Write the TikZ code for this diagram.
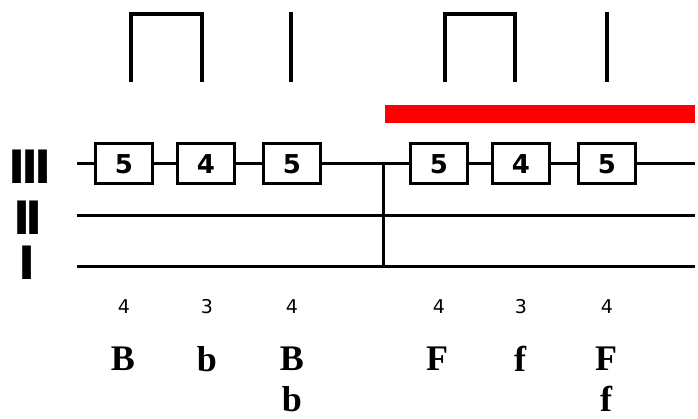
\documentclass[tikz,border=0pt]{standalone}
\usepackage{fontspec}
\setmainfont{Liberation Serif}
\newfontfamily\sansfont{DejaVu Sans}

\begin{document}
\begin{tikzpicture}[
    x=1pt, y=-1pt,
    staff/.style={
      line width=3pt
    },
    bracket/.style={
      line width=4pt
    },
    pitchbox/.style={
      rectangle,
      draw=black,
      line width=3pt,
      fill=white,
      minimum width=57pt,
      minimum height=40pt,
      inner sep=0pt,
      font=\sansfont\bfseries\fontsize{26}{26}\selectfont
    },
    level/.style={
      inner sep=0pt,
      font=\sansfont\bfseries\fontsize{46}{46}\selectfont
    },
    count/.style={
      inner sep=0pt,
      font=\sansfont\fontsize{19}{19}\selectfont
    },
    letter/.style={
      inner sep=0pt,
      font=\bfseries\fontsize{36}{36}\selectfont
    }
  ]

    \useasboundingbox (0,0) rectangle (698,419);

    % Level labels
    \node[level] (lIII) at (30,167) {I\kern-4.5pt I\kern-4.5pt I};
    \node[level] (lII) at (28,218) {I\kern-4.5pt I};
    \node[level] (lI) at (27.5,263) {I};

    % Red bar
    \fill[red] (385,105) rectangle (695,123);

    % Boxes on line III
    \node[pitchbox] (b1) at (124,164) {5};
    \node[pitchbox] (b2) at (206,164) {4};
    \node[pitchbox] (b3) at (292,164) {5};
    \node[pitchbox] (b4) at (439,164) {5};
    \node[pitchbox] (b5) at (521,164) {4};
    \node[pitchbox] (b6) at (607,164) {5};

    % Line ends
    \coordinate (IIIw) at (77,164);
    \coordinate (IIIe) at (695,164);
    \coordinate (IIw) at (77,216);
    \coordinate (IIe) at (695,216);
    \coordinate (Iw) at (77,267);
    \coordinate (Ie) at (695,267);
    \coordinate (split) at (383,164);
    \coordinate (splitI) at (383,267);

    % Lines
    \draw[staff] (IIIw) -- (b1.west);
    \draw[staff] (b1.east) -- (b2.west);
    \draw[staff] (b2.east) -- (b3.west);
    \draw[staff] (b3.east) -- (b4.west);
    \draw[staff] (b4.east) -- (b5.west);
    \draw[staff] (b5.east) -- (b6.west);
    \draw[staff] (b6.east) -- (IIIe);
    \draw[staff] (IIw) -- (IIe);
    \draw[staff] (Iw) -- (Ie);
    \draw[staff] (split) -- (splitI);

    % Brackets on top
    \coordinate (k1a) at (131,82);
    \coordinate (k1b) at (202,82);
    \coordinate (k2a) at (445,82);
    \coordinate (k2b) at (515,82);
    \coordinate (s1) at (291,82);
    \coordinate (s2) at (607,82);
    \draw[bracket] (k1a) -- ++(0,-68) -| (k1b);
    \draw[bracket] (k2a) -- ++(0,-68) -| (k2b);
    \draw[bracket] (s1) -- ++(0,-70);
    \draw[bracket] (s2) -- ++(0,-70);

    % Counts
    \node[count] (c1) at (124,307) {4};
    \node[count] (c2) at (207,307) {3};
    \node[count] (c3) at (292,307) {4};
    \node[count] (c4) at (439,307) {4};
    \node[count] (c5) at (521,307) {3};
    \node[count] (c6) at (607,307) {4};

    % Letters
    \node[letter] (t1) at (123,359) {B};
    \node[letter] (t2) at (207,359) {b};
    \node[letter] (t3) at (292,359) {B};
    \node[letter] (t3b) at (292,399) {b};
    \node[letter] (t4) at (437,359) {F};
    \node[letter] (t5) at (520,359) {f};
    \node[letter] (t6) at (606,359) {F};
    \node[letter] (t6b) at (606,399) {f};

  \end{tikzpicture}
\end{document}
